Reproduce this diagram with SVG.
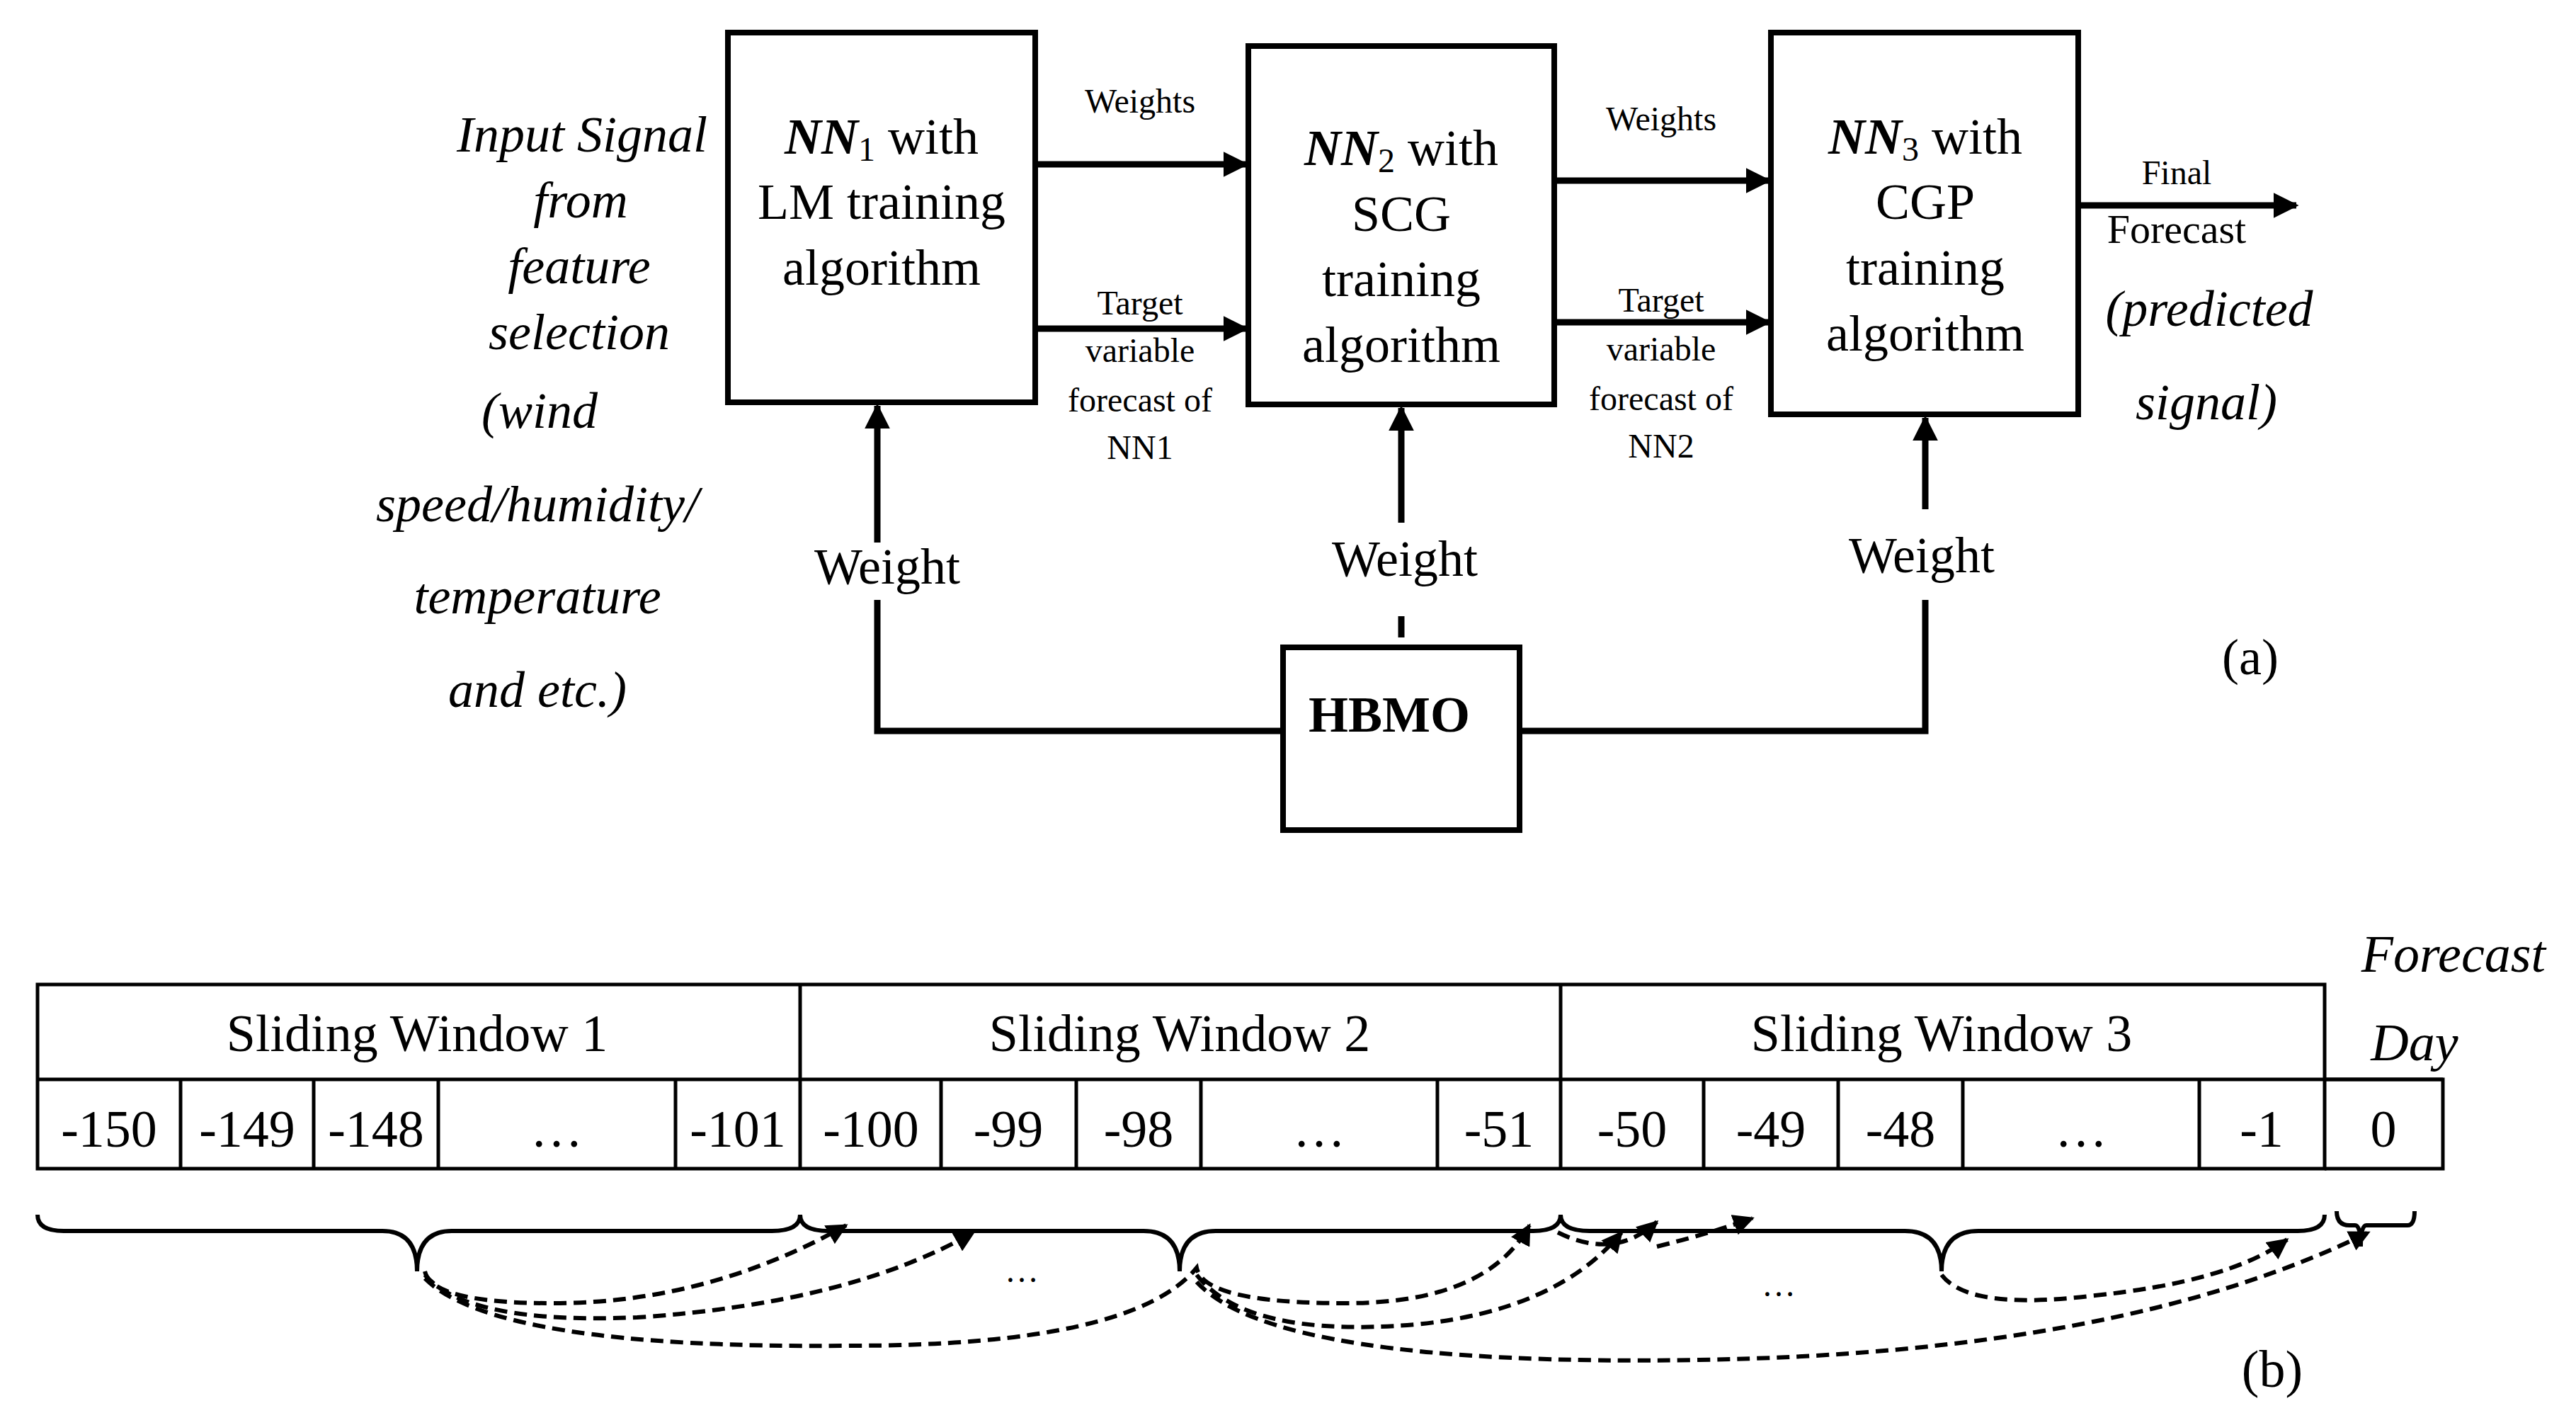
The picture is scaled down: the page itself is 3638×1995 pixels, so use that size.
<svg xmlns="http://www.w3.org/2000/svg" width="3638" height="1995" viewBox="0 0 3638 1995">
<defs>
<style>
text{font-family:"Liberation Serif",serif;fill:#000;text-anchor:middle}
.b{font-size:72px}.s{font-size:48px}.i{font-style:italic}.t{font-size:74px}
.box{fill:#fff;stroke:#000;stroke-width:8}
.ln{fill:none;stroke:#000;stroke-width:9}
.cell{fill:none;stroke:#000;stroke-width:5}
.br{fill:none;stroke:#000;stroke-width:6}
.da{fill:none;stroke:#000;stroke-width:6;stroke-dasharray:18 10}
</style>
<marker id="ah" viewBox="0 0 10 10" refX="9" refY="5" markerWidth="4" markerHeight="4" orient="auto" markerUnits="strokeWidth"><path d="M0,0L10,5L0,10z"/></marker>
<marker id="ad" viewBox="0 0 10 10" refX="9" refY="5" markerWidth="5" markerHeight="5" orient="auto" markerUnits="strokeWidth"><path d="M0,0L10,5L0,10z"/></marker>
</defs>
<rect width="3638" height="1995" fill="#fff"/>
<g id="connectors">
<line class="ln" x1="1462" y1="232" x2="1760" y2="232" marker-end="url(#ah)"/>
<line class="ln" x1="1462" y1="464" x2="1760" y2="464" marker-end="url(#ah)"/>
<line class="ln" x1="2195" y1="255" x2="2498" y2="255" marker-end="url(#ah)"/>
<line class="ln" x1="2195" y1="455" x2="2498" y2="455" marker-end="url(#ah)"/>
<line class="ln" x1="2935" y1="290" x2="3243" y2="290" marker-end="url(#ah)"/>
<line class="ln" x1="1239" y1="766" x2="1239" y2="573" marker-end="url(#ah)"/>
<polyline class="ln" points="1239,847 1239,1032 1812,1032"/>
<line class="ln" x1="1979" y1="738" x2="1979" y2="576" marker-end="url(#ah)"/>
<line class="ln" x1="1979" y1="870" x2="1979" y2="900"/>
<line class="ln" x1="2719" y1="719" x2="2719" y2="590" marker-end="url(#ah)"/>
<polyline class="ln" points="2719,847 2719,1032 2146,1032"/>
</g>
<g id="nn1"><rect class="box" x="1028" y="46" width="434" height="522"/>
<text class="b" x="1245" y="217"><tspan class="i" font-weight="bold">NN</tspan><tspan font-size="48" dy="10">1</tspan><tspan dy="-10"> with</tspan></text>
<text class="b" x="1245" y="309">LM training</text><text class="b" x="1245" y="402">algorithm</text></g>
<g id="nn2"><rect class="box" x="1763" y="65" width="432" height="506"/>
<text class="b" x="1979" y="233"><tspan class="i" font-weight="bold">NN</tspan><tspan font-size="48" dy="10">2</tspan><tspan dy="-10"> with</tspan></text>
<text class="b" x="1979" y="326">SCG</text><text class="b" x="1979" y="418">training</text><text class="b" x="1979" y="511">algorithm</text></g>
<g id="nn3"><rect class="box" x="2501" y="46" width="434" height="539"/>
<text class="b" x="2719" y="217"><tspan class="i" font-weight="bold">NN</tspan><tspan font-size="48" dy="10">3</tspan><tspan dy="-10"> with</tspan></text>
<text class="b" x="2719" y="309">CGP</text><text class="b" x="2719" y="402">training</text><text class="b" x="2719" y="495">algorithm</text></g>
<g id="hbmo"><rect class="box" x="1812" y="914" width="334" height="258"/>
<text class="b" x="1962" y="1033" font-weight="bold">HBMO</text></g>
<g id="labels">
<text class="b i" x="822" y="214">Input Signal</text><text class="b i" x="820" y="307">from</text>
<text class="b i" x="818" y="400">feature</text><text class="b i" x="818" y="493">selection</text>
<text class="b i" x="762" y="604">(wind</text><text class="b i" x="759" y="736">speed/humidity/</text>
<text class="b i" x="759" y="866">temperature</text><text class="b i" x="759" y="998">and etc.)</text>
<text class="s" x="1610" y="159">Weights</text>
<text class="s" x="1610" y="444">Target</text><text class="s" x="1610" y="511">variable</text><text class="s" x="1610" y="581">forecast of</text><text class="s" x="1610" y="648">NN1</text>
<text class="s" x="2346" y="184">Weights</text>
<text class="s" x="2346" y="440">Target</text><text class="s" x="2346" y="509">variable</text><text class="s" x="2346" y="579">forecast of</text><text class="s" x="2346" y="646">NN2</text>
<text class="s" x="3074" y="260" font-size="58">Final</text><text x="3074" y="343" font-size="58">Forecast</text>
<text class="b i" x="3120" y="460">(predicted</text><text class="b i" x="3116" y="592">signal)</text>
<text class="b" x="1253" y="824">Weight</text><text class="b" x="1984" y="813">Weight</text><text class="b" x="2714" y="808">Weight</text>
<text class="b" x="3178" y="952">(a)</text>
</g>
<g id="table">
<rect class="cell" x="53" y="1390" width="3230" height="260"/>
<line class="cell" x1="53" y1="1524" x2="3450" y2="1524"/>
<polyline class="cell" points="3283,1524 3450,1524 3450,1650 3283,1650"/>
<line class="cell" x1="1130" y1="1390" x2="1130" y2="1650"/><line class="cell" x1="2204" y1="1390" x2="2204" y2="1650"/>
<g class="cell"><line class="cell" x1="255" y1="1524" x2="255" y2="1650"/><line class="cell" x1="443" y1="1524" x2="443" y2="1650"/><line class="cell" x1="619" y1="1524" x2="619" y2="1650"/><line class="cell" x1="954" y1="1524" x2="954" y2="1650"/>
<line class="cell" x1="1329" y1="1524" x2="1329" y2="1650"/><line class="cell" x1="1520" y1="1524" x2="1520" y2="1650"/><line class="cell" x1="1696" y1="1524" x2="1696" y2="1650"/><line class="cell" x1="2030" y1="1524" x2="2030" y2="1650"/>
<line class="cell" x1="2406" y1="1524" x2="2406" y2="1650"/><line class="cell" x1="2596" y1="1524" x2="2596" y2="1650"/><line class="cell" x1="2772" y1="1524" x2="2772" y2="1650"/><line class="cell" x1="3106" y1="1524" x2="3106" y2="1650"/></g>
<text class="t" x="589" y="1484">Sliding Window 1</text><text class="t" x="1666" y="1484">Sliding Window 2</text><text class="t" x="2742" y="1484">Sliding Window 3</text>
<text class="t" x="154" y="1619">-150</text><text class="t" x="349" y="1619">-149</text><text class="t" x="531" y="1619">-148</text><text class="t" x="786" y="1619">…</text><text class="t" x="1042" y="1619">-101</text>
<text class="t" x="1230" y="1619">-100</text><text class="t" x="1424" y="1619">-99</text><text class="t" x="1608" y="1619">-98</text><text class="t" x="1863" y="1619">…</text><text class="t" x="2117" y="1619">-51</text>
<text class="t" x="2305" y="1619">-50</text><text class="t" x="2501" y="1619">-49</text><text class="t" x="2684" y="1619">-48</text><text class="t" x="2939" y="1619">…</text><text class="t" x="3194" y="1619">-1</text>
<text class="t" x="3366" y="1619">0</text>
<text class="t i" x="3465" y="1372">Forecast</text><text class="t i" x="3410" y="1497">Day</text>
</g>
<g id="braces">
<path class="br" d="M53,1715 Q53,1738 90,1738 L540,1738 Q589,1738 589,1795 Q589,1738 638,1738 L1090,1738 Q1130,1738 1130,1715"/>
<path class="br" d="M1130,1715 Q1130,1738 1170,1738 L1615,1738 Q1666,1738 1666,1795 Q1666,1738 1717,1738 L2165,1738 Q2204,1738 2204,1715"/>
<path class="br" d="M2204,1715 Q2204,1738 2245,1738 L2690,1738 Q2742,1738 2742,1795 Q2742,1738 2794,1738 L3245,1738 Q3283,1738 3283,1715"/>
<path class="br" d="M3300,1710 Q3300,1730 3318,1730 L3326,1730 Q3334,1730 3334,1760 Q3334,1730 3342,1730 L3400,1730 Q3410,1730 3410,1710"/>
<path class="da" d="M600,1795 Q610,1840 780,1840 Q1000,1840 1195,1730" marker-end="url(#ad)"/>
<path class="da" d="M600,1800 Q660,1870 900,1860 Q1200,1840 1375,1740" marker-end="url(#ad)"/>
<path class="da" d="M600,1805 Q700,1905 1200,1900 Q1600,1900 1690,1790 Q1700,1840 1900,1840 Q2100,1840 2160,1730" marker-end="url(#ad)"/>
<path class="da" d="M1690,1800 Q1760,1890 2000,1870 Q2200,1850 2290,1740" marker-end="url(#ad)"/>
<path class="da" d="M1690,1810 Q1800,1930 2400,1920 Q3000,1910 3345,1740" marker-end="url(#ad)"/>
<path class="da" d="M2742,1800 Q2780,1850 2950,1830 Q3150,1810 3230,1750" marker-end="url(#ad)"/>
<path class="da" d="M2200,1740 Q2280,1780 2340,1725" marker-end="url(#ad)"/>
<path class="da" d="M2340,1760 Q2420,1740 2475,1720" marker-end="url(#ad)"/>
<text class="s" x="1443" y="1810">…</text><text class="s" x="2512" y="1830">…</text>
<text class="t" x="3209" y="1958">(b)</text>
</g>
</svg>
